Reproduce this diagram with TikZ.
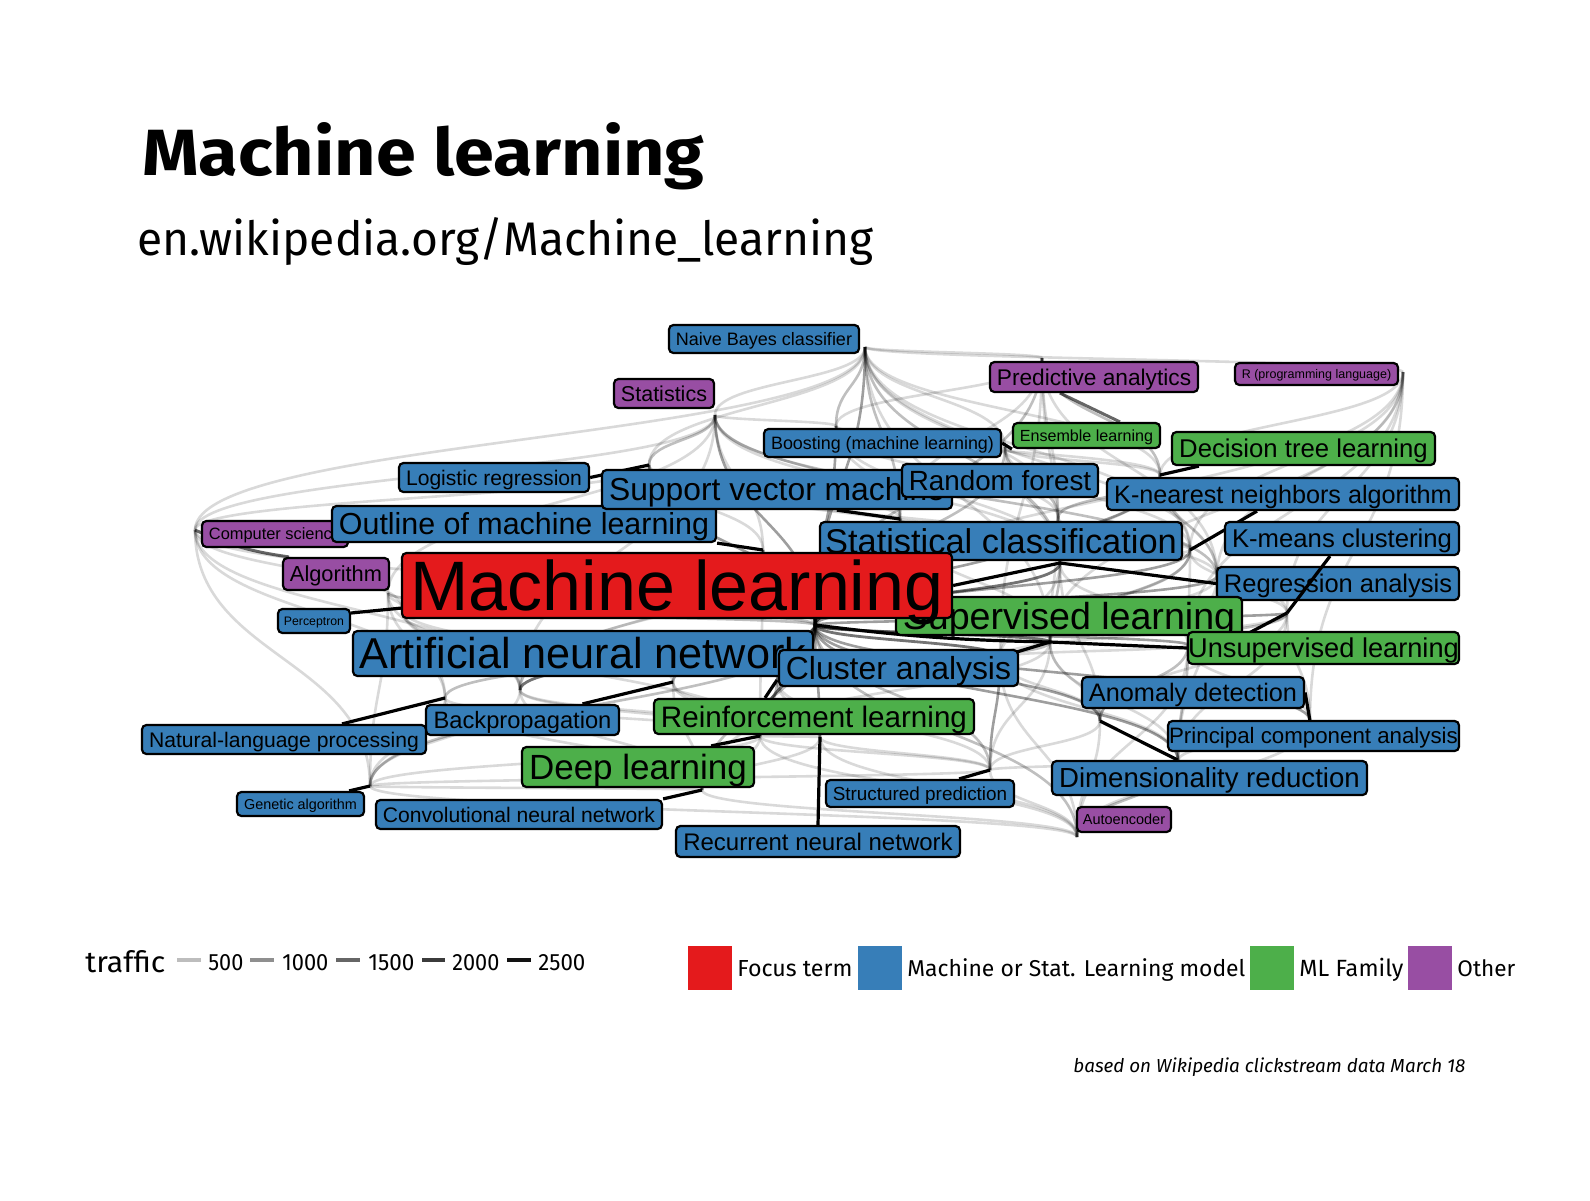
\documentclass[tikz,border=0pt]{standalone}
\usepackage{fontspec}
\usepackage{graphicx}
\setmainfont{Fira Sans}
\newfontfamily\labfont{Liberation Sans}
\usetikzlibrary{calc}
\pgfdeclarelayer{bgw}
\pgfdeclarelayer{edges}
\pgfsetlayers{bgw,edges,main}
\definecolor{cred}{HTML}{E41A1C}
\definecolor{cblue}{HTML}{377EB8}
\definecolor{cgreen}{HTML}{4DAF4A}
\definecolor{cpurple}{HTML}{984EA3}
\tikzset{
  lab/.style n args={5}{draw=black, line width=1.1pt, rounded corners=2.2pt, inner sep=0pt,
    fill=#1, minimum width=#2, minimum height=#3,
    font=\labfont\fontsize{#4}{#4}\selectfont, text height=#5, text depth=0pt},
  ta/.style={draw=black, draw opacity=0.15, line width=1.3pt},
  tb/.style={draw=black, draw opacity=0.25, line width=1.3pt},
  tc/.style={draw=black, draw opacity=0.38, line width=1.3pt},
  td/.style={draw=black, draw opacity=0.55, line width=1.4pt},
  seg/.style={draw=black, line width=1.6pt},
  sega/.style={draw=black, draw opacity=0.6, line width=1.5pt},
  keyline/.style={line width=1.75pt},
  txt/.style={anchor=base west, inner sep=0pt},
  keybox/.style={minimum size=22pt, inner sep=0pt},
}
\newcommand\Edg[3]{\path ($(p-#2)!.5!(p-#3)$) coordinate (mm);
  \draw[#1] (p-#2) .. controls (p-#2 |- mm) and (p-#3 |- mm) .. (p-#3);}
\begin{document}
\begin{tikzpicture}[x=0.5pt,y=-0.5pt]
\begin{pgfonlayer}{bgw}
\fill[white] (0,0) rectangle (1590,1200);
\end{pgfonlayer}
\useasboundingbox (0,0) rectangle (1590,1200);

% title
\node[txt] (title) at (142,175) {\resizebox{281pt}{26.5pt}{\bfseries Machine learning}};
\node[txt] (sub) at (137,255) {\resizebox{368pt}{19pt}{en.wikipedia.org/Machine\_learning}};

% data points
\coordinate (p-ml) at (815,625);
\coordinate (p-nb) at (865,347);
\coordinate (p-pa) at (1042,358);
\coordinate (p-r) at (1403,372);
\coordinate (p-stat) at (715,415);
\coordinate (p-boost) at (836,426);
\coordinate (p-ens) at (1005,447);
\coordinate (p-lr) at (649,465);
\coordinate (p-dt) at (1160,475);
\coordinate (p-svm) at (900,519);
\coordinate (p-rf) at (1058,518);
\coordinate (p-cs) at (195,530);
\coordinate (p-oml) at (763,550);
\coordinate (p-knn) at (1190,550);
\coordinate (p-sc) at (1060,563);
\coordinate (p-ra) at (1217,576);
\coordinate (p-alg) at (388,593);
\coordinate (p-perc) at (402,608);
\coordinate (p-km) at (1287,613);
\coordinate (p-sup) at (1050,642);
\coordinate (p-unsup) at (1188,645);
\coordinate (p-ca) at (1000,657);
\coordinate (p-rl) at (777,680);
\coordinate (p-bp) at (673,682);
\coordinate (p-ann) at (520,690);
\coordinate (p-nlp) at (445,698);
\coordinate (p-ad) at (1100,721);
\coordinate (p-pca) at (1310,721);
\coordinate (p-dl) at (760,736);
\coordinate (p-rnn) at (820,737);
\coordinate (p-dr) at (1178,761);
\coordinate (p-sp) at (990,770);
\coordinate (p-ga) at (370,786);
\coordinate (p-cnn) at (702,790);
\coordinate (p-ae) at (1077,837);

% labels
\node[lab={cpurple}{73pt}{13pt}{8.2pt}{5.87pt}] (cs) at (275,534) {Computer science};
\node[lab={cblue}{192pt}{18pt}{15.2pt}{10.88pt}] (oml) at (524,524) {Outline of machine learning};
\node[lab={cblue}{95pt}{14.5pt}{10.55pt}{7.55pt}] (lr) at (494,477.5) {Logistic regression};
\node[lab={cblue}{95pt}{14pt}{9pt}{6.44pt}] (nb) at (764,339) {Naive Bayes classifier};
\node[lab={cpurple}{50pt}{14.5pt}{10.75pt}{7.7pt}] (stat) at (664,393.5) {Statistics};
\node[lab={cpurple}{104pt}{15pt}{11.35pt}{8.13pt}] (pa) at (1094,377) {Predictive analytics};
\node[lab={cpurple}{81.5pt}{11pt}{6.25pt}{4.48pt}] (r) at (1316.5,374) {R (programming language)};
\node[lab={cblue}{118.5pt}{14pt}{8.95pt}{6.41pt}] (boost) at (882.5,443) {Boosting (machine learning)};
\node[lab={cgreen}{73.5pt}{12.5pt}{8.05pt}{5.76pt}] (ens) at (1086.5,435.5) {Ensemble learning};
\node[lab={cgreen}{131.5pt}{16.5pt}{12.85pt}{9.2pt}] (dt) at (1303.5,448.5) {Decision tree learning};
\node[lab={cblue}{175pt}{19.5pt}{15.9pt}{11.38pt}] (svm) at (777,489.5) {Support vector machine};
\node[lab={cblue}{98pt}{16.5pt}{13.9pt}{9.95pt}] (rf) at (1000,480.5) {Random forest};
\node[lab={cblue}{176pt}{16pt}{12.6pt}{9.02pt}] (knn) at (1283,494) {K-nearest neighbors algorithm};
\node[lab={cblue}{181pt}{19pt}{17.2pt}{12.32pt}] (sc) at (1001,541) {Statistical classification};
\node[lab={cblue}{117pt}{16.5pt}{12.85pt}{9.2pt}] (km) at (1342,538.5) {K-means clustering};
\node[lab={cpurple}{53pt}{16pt}{10.9pt}{7.8pt}] (alg) at (336,574) {Algorithm};
\node[lab={cblue}{121pt}{16.5pt}{12.75pt}{9.13pt}] (ra) at (1338,583.5) {Regression analysis};
\node[lab={cgreen}{173pt}{19pt}{18.8pt}{13.46pt}] (sup) at (1069,616) {Supervised learning};
\node[lab={cred}{275pt}{32.5pt}{35pt}{25.06pt}] (ml) at (677,585.5) {Machine learning};
\node[lab={cblue}{36pt}{12pt}{6.15pt}{4.4pt}] (perc) at (314,621) {Perceptron};
\node[lab={cblue}{230pt}{22.5pt}{21.6pt}{15.47pt}] (ann) at (583,653.5) {Artificial neural network};
\node[lab={cblue}{119.5pt}{18pt}{15.95pt}{11.42pt}] (ca) at (898.5,668) {Cluster analysis};
\node[lab={cgreen}{135.5pt}{16pt}{13.6pt}{9.74pt}] (unsup) at (1323.5,648) {Unsupervised learning};
\node[lab={cblue}{111pt}{15.5pt}{12.65pt}{9.06pt}] (ad) at (1193,692.5) {Anomaly detection};
\node[lab={cblue}{96.5pt}{15pt}{11.85pt}{8.48pt}] (bp) at (522.5,720) {Backpropagation};
\node[lab={cgreen}{160pt}{17.5pt}{14.8pt}{10.6pt}] (rl) at (814,716.5) {Reinforcement learning};
\node[lab={cblue}{142pt}{14.5pt}{10.55pt}{7.55pt}] (nlp) at (284,739.5) {Natural-language processing};
\node[lab={cblue}{145.5pt}{15pt}{11.15pt}{7.98pt}] (pca) at (1313.5,736) {Principal component analysis};
\node[lab={cgreen}{116pt}{20pt}{17.5pt}{12.53pt}] (dl) at (638,767) {Deep learning};
\node[lab={cblue}{157.5pt}{17pt}{13.8pt}{9.88pt}] (dr) at (1209.5,778) {Dimensionality reduction};
\node[lab={cblue}{94pt}{13.5pt}{9.45pt}{6.77pt}] (sp) at (920,793.5) {Structured prediction};
\node[lab={cblue}{63.5pt}{12pt}{7.2pt}{5.16pt}] (ga) at (300.5,804) {Genetic algorithm};
\node[lab={cblue}{143pt}{14.5pt}{10.55pt}{7.55pt}] (cnn) at (519,814.5) {Convolutional neural network};
\node[lab={cpurple}{47pt}{12.5pt}{7.25pt}{5.19pt}] (ae) at (1124,819.5) {Autoencoder};
\node[lab={cblue}{142pt}{15.5pt}{12pt}{8.59pt}] (rnn) at (818,841.5) {Recurrent neural network};

% segment drawn over a label
\draw[seg] ([xshift=-6pt]km.south) -- (p-km);

\begin{pgfonlayer}{edges}
% focus edges
\Edg{tc}{nb}{ml} \Edg{tb}{pa}{ml} \Edg{ta}{r}{ml} \Edg{tc}{stat}{ml} \Edg{tc}{boost}{ml}
\Edg{tb}{ens}{ml} \Edg{tc}{lr}{ml} \Edg{tc}{dt}{ml} \Edg{td}{svm}{ml} \Edg{tc}{rf}{ml}
\Edg{ta}{cs}{ml} \Edg{td}{oml}{ml} \Edg{tc}{knn}{ml} \Edg{td}{sc}{ml} \Edg{tc}{ra}{ml}
\Edg{tb}{alg}{ml} \Edg{tb}{perc}{ml} \Edg{tc}{km}{ml} \Edg{td}{ml}{sup} \Edg{tc}{ml}{unsup}
\Edg{td}{ml}{ca} \Edg{tc}{ml}{rl} \Edg{tc}{ml}{bp} \Edg{tb}{ml}{nlp} \Edg{td}{ml}{ann}
\Edg{tc}{ml}{ad} \Edg{tc}{ml}{pca} \Edg{td}{ml}{dl} \Edg{tc}{ml}{rnn} \Edg{tc}{ml}{dr}
\Edg{tb}{ml}{sp} \Edg{tb}{ml}{ga} \Edg{tb}{ml}{cnn} \Edg{tb}{ml}{ae}
% cross edges
\Edg{ta}{nb}{pa} \Edg{ta}{nb}{r} \Edg{ta}{nb}{stat} \Edg{tb}{nb}{boost} \Edg{ta}{nb}{ens}
\Edg{ta}{nb}{lr} \Edg{ta}{nb}{dt} \Edg{tb}{nb}{svm} \Edg{ta}{nb}{rf} \Edg{ta}{nb}{knn}
\Edg{tb}{nb}{sc} \Edg{ta}{nb}{ra} \Edg{ta}{nb}{sup} \Edg{ta}{nb}{cs}
\Edg{tb}{pa}{dt} \Edg{ta}{pa}{rf} \Edg{ta}{pa}{boost} \Edg{ta}{pa}{svm} \Edg{ta}{pa}{sc}
\Edg{ta}{pa}{ra} \Edg{ta}{pa}{ca}
\Edg{ta}{r}{dt} \Edg{ta}{r}{knn} \Edg{ta}{r}{unsup} \Edg{ta}{r}{km} \Edg{ta}{r}{ra}
\Edg{ta}{r}{pca} \Edg{ta}{r}{sup}
\Edg{tb}{stat}{lr} \Edg{ta}{stat}{svm} \Edg{ta}{stat}{boost} \Edg{ta}{stat}{sc} \Edg{tb}{stat}{ra}
\Edg{ta}{stat}{cs} \Edg{ta}{stat}{oml} \Edg{ta}{stat}{alg} \Edg{ta}{stat}{ann}
\Edg{ta}{boost}{rf} \Edg{ta}{boost}{ens} \Edg{ta}{boost}{dt} \Edg{ta}{boost}{svm} \Edg{ta}{boost}{sc}
\Edg{tb}{ens}{rf} \Edg{ta}{ens}{dt} \Edg{ta}{ens}{knn} \Edg{ta}{ens}{sc}
\Edg{ta}{lr}{svm} \Edg{ta}{lr}{sc} \Edg{ta}{lr}{ra} \Edg{ta}{lr}{cs} \Edg{ta}{lr}{oml}
\Edg{tb}{dt}{rf} \Edg{ta}{dt}{knn} \Edg{ta}{dt}{sc} \Edg{ta}{dt}{ra}
\Edg{tb}{svm}{sc} \Edg{ta}{svm}{knn} \Edg{ta}{svm}{sup} \Edg{ta}{svm}{ann}
\Edg{ta}{rf}{sc} \Edg{ta}{rf}{knn} \Edg{ta}{rf}{sup}
\Edg{ta}{cs}{ga} \Edg{ta}{cs}{nlp} \Edg{ta}{cs}{ann} \Edg{ta}{cs}{perc}
\Edg{ta}{oml}{ann} \Edg{ta}{oml}{sup} \Edg{ta}{oml}{dl}
\Edg{ta}{knn}{km} \Edg{ta}{knn}{sc} \Edg{tb}{knn}{sup} \Edg{ta}{knn}{unsup} \Edg{ta}{knn}{ca}
\Edg{tb}{sc}{sup} \Edg{ta}{sc}{unsup} \Edg{ta}{sc}{ca} \Edg{ta}{sc}{ad}
\Edg{ta}{ra}{km} \Edg{ta}{ra}{sup} \Edg{ta}{ra}{unsup} \Edg{ta}{ra}{dr}
\Edg{ta}{alg}{ga} \Edg{ta}{alg}{perc} \Edg{ta}{alg}{nlp} \Edg{ta}{alg}{ann}
\Edg{ta}{perc}{ann} \Edg{ta}{perc}{bp} \Edg{ta}{perc}{dl}
\Edg{tb}{km}{unsup} \Edg{ta}{km}{ca} \Edg{ta}{km}{pca} \Edg{ta}{km}{ad} \Edg{ta}{km}{dr}
\Edg{tb}{sup}{rl} \Edg{ta}{sup}{ad} \Edg{ta}{sup}{dl} \Edg{ta}{sup}{dr} \Edg{ta}{sup}{sp}
\Edg{ta}{unsup}{ca} \Edg{tb}{unsup}{ad} \Edg{tb}{unsup}{dr} \Edg{ta}{unsup}{pca} \Edg{ta}{unsup}{ae}
\Edg{ta}{ca}{ad} \Edg{ta}{ca}{rl} \Edg{ta}{ca}{dr} \Edg{tc}{ca}{sp} \Edg{ta}{ca}{ae}
\Edg{ta}{rl}{dl} \Edg{ta}{rl}{sp} \Edg{ta}{rl}{rnn} \Edg{ta}{rl}{cnn}
\Edg{ta}{bp}{dl} \Edg{ta}{bp}{cnn} \Edg{ta}{bp}{rnn}
\Edg{ta}{nlp}{ga} \Edg{ta}{nlp}{dl} \Edg{ta}{nlp}{cnn}
\Edg{ta}{ann}{dl} \Edg{ta}{ann}{cnn} \Edg{ta}{ann}{rnn} \Edg{ta}{ann}{ga}
\Edg{ta}{ad}{ae} \Edg{ta}{ad}{sp} \Edg{ta}{pca}{dr} \Edg{ta}{pca}{ae}
\Edg{ta}{dl}{cnn} \Edg{ta}{dl}{rnn} \Edg{ta}{dl}{ga} \Edg{ta}{dl}{ae} \Edg{ta}{dl}{sp}
\Edg{ta}{rnn}{sp} \Edg{ta}{rnn}{cnn} \Edg{ta}{rnn}{ae}
\Edg{tb}{dr}{ae} \Edg{ta}{dr}{sp} \Edg{ta}{sp}{ae} \Edg{ta}{sp}{ga}
\Edg{ta}{ga}{cnn} \Edg{ta}{ga}{ae} \Edg{ta}{cnn}{ae}
% heavy segments
\draw[seg] (lr.east) -- (p-lr);
\draw[seg] (oml.south east) -- (p-oml);
\draw[seg] (svm.-19) -- (p-svm);
\draw[seg] (boost.east) -- (ens.south west);
\draw[seg] ([xshift=14pt]dt.south west) -- (p-dt);
\draw[seg] ([xshift=-13pt]knn.south) -- (p-knn);
\draw[seg] (ml.east) -- (p-sc);
\draw[seg] (p-sc) -- (ra.west);
\draw[seg] (p-ml) to[bend right=3] (p-sup);
\draw[seg] (p-sup) -- (unsup.west);
\draw[seg] (p-ca) -- (p-sup);
\draw[seg] (sup.south east) -- (p-km);
\draw[seg] (ad.east) -- (p-pca);
\draw[seg] (p-ad) -- ([xshift=-16pt]dr.north);
\draw[seg] ([yshift=4pt]perc.east) -- (p-perc);
\draw[seg] ([xshift=29pt]nlp.north) -- (p-nlp);
\draw[seg] ([xshift=-8pt]ga.north east) -- (p-ga);
\draw[seg] ([xshift=30pt]bp.north) -- (p-bp);
\draw[seg] (cnn.north east) -- (p-cnn);
\draw[seg] ([xshift=-22pt]dl.north east) -- (p-dl);
\draw[seg] ([xshift=-24.5pt]rl.north) -- (p-rl);
\draw[seg] ([xshift=-28pt]sp.north east) -- (p-sp);
\draw[seg] (rnn.north) -- (p-rnn);
\draw[sega] (p-cs) to[bend right=8] (alg.160);
\draw[sega] ([xshift=-17pt]pa.south) -- ([xshift=16.75pt]ens.north);
\end{pgfonlayer}

% traffic legend
\node[txt] (tr) at (85,972) {\resizebox{40pt}{11pt}{traffic}};
\draw[keyline, draw=black!26] (177,960) -- (201,960);
\node[txt] (n1) at (208,970) {\resizebox{17.5pt}{8pt}{500}};
\draw[keyline, draw=black!44] (250,960) -- (274,960);
\node[txt] (n2) at (282,970) {\resizebox{23pt}{8pt}{1000}};
\draw[keyline, draw=black!60] (336,960) -- (360,960);
\node[txt] (n3) at (368,970) {\resizebox{23pt}{8pt}{1500}};
\draw[keyline, draw=black!77] (422,960) -- (445,960);
\node[txt] (n4) at (452,970) {\resizebox{23.5pt}{8pt}{2000}};
\draw[keyline, draw=black!93] (507,960) -- (531,960);
\node[txt] (n5) at (538,970) {\resizebox{23.5pt}{8pt}{2500}};

% colour legend
\node[keybox, fill=cred] (k1) at (710,967.5) {};
\node[txt] (l1) at (737,976) {\resizebox{57.5pt}{!}{Focus term}};
\node[keybox, fill=cblue] (k2) at (880,967.5) {};
\node[txt] (l2) at (907,976) {\resizebox{169pt}{!}{Machine or Stat. Learning model}};
\node[keybox, fill=cgreen] (k3) at (1271.5,967.5) {};
\node[txt] (l3) at (1299,976) {\resizebox{52pt}{!}{ML Family}};
\node[keybox, fill=cpurple] (k4) at (1430,967.5) {};
\node[txt] (l4) at (1457,976) {\resizebox{29pt}{!}{Other}};

% caption
\node[txt] (cap) at (1073,1072) {\resizebox{196pt}{!}{\itshape based on Wikipedia clickstream data March 18}};
\end{tikzpicture}
\end{document}
